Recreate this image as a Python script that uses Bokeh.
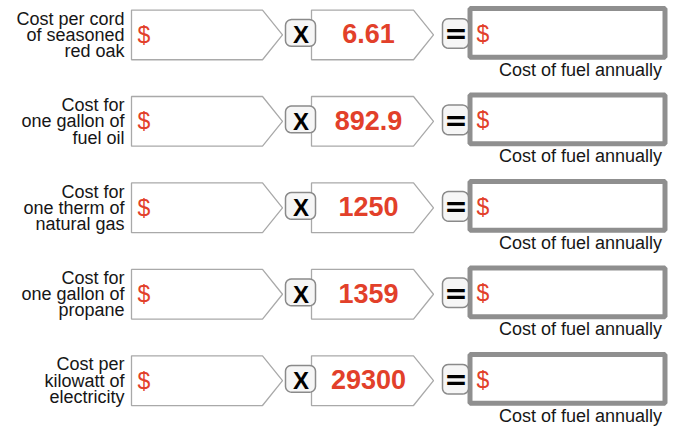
import numpy as np
from bokeh.plotting import figure
from bokeh.models import Range1d
from bokeh.core.properties import value
from bokeh.embed import file_html
from bokeh.resources import INLINE

# ---- content ----
label_lines = [
    ["Cost per cord", "of seasoned", "red oak"],
    ["Cost for", "one gallon of", "fuel oil"],
    ["Cost for", "one therm of", "natural gas"],
    ["Cost for", "one gallon of", "propane"],
    ["Cost per", "kilowatt of", "electricity"],
]
multipliers = ["6.61", "892.9", "1250", "1359", "29300"]
caption = "Cost of fuel annually"
currency = "$"
times_sym = "X"
equals_sym = "="

# ---- layout / style ----
ROW0 = 10.0
STEP = 90.5
RED = "#e2402a"
INK = "#161616"
BOX_LINE = "#a9a9a9"
FONT = value("Liberation Sans")


def rounded_rect(x0, y0, x1, y1, r, n=6):
    xs, ys = [], []
    corners = [
        (x1 - r, y0 + r, -np.pi / 2, 0),
        (x1 - r, y1 - r, 0, np.pi / 2),
        (x0 + r, y1 - r, np.pi / 2, np.pi),
        (x0 + r, y0 + r, np.pi, 3 * np.pi / 2),
    ]
    for cx, cy, a0, a1 in corners:
        for a in np.linspace(a0, a1, n):
            xs.append(cx + r * np.cos(a))
            ys.append(cy + r * np.sin(a))
    return xs, ys


p = figure(width=668, height=427,
           x_range=Range1d(0, 668), y_range=Range1d(447, 0),
           output_backend="svg", toolbar_location=None,
           x_axis_location=None, y_axis_location=None,
           min_border=0, min_border_left=0, min_border_right=0,
           min_border_top=0, min_border_bottom=0)
p.grid.visible = False
p.outline_line_color = None
p.background_fill_color = "white"
p.border_fill_color = "white"

pent1_x, pent1_y, pent2_x, pent2_y = [], [], [], []
xbox_x, xbox_y, ebox_x, ebox_y = [], [], [], []
res_l, res_r, res_t, res_b = [], [], [], []

lab_x, lab_y, lab_t = [], [], []
val_x, val_y, val_t = [], [], []
cur_x, cur_y, cur_t = [], [], []
cap_x, cap_y, cap_t = [], [], []
sym_x, sym_y, sym_t = [], [], []
eq_x, eq_y, eq_t = [], [], []

for i, (lines, mult) in enumerate(zip(label_lines, multipliers)):
    t = ROW0 + STEP * i
    m = t + 26
    b = t + 52
    pent1_x.append([131, 262, 282, 262, 131]); pent1_y.append([t, t, m, b, b])
    pent2_x.append([311, 413, 433, 413, 311]); pent2_y.append([t, t, m, b, b])
    xs, ys = rounded_rect(285, t + 10, 315, t + 38, 6)
    xbox_x.append(xs); xbox_y.append(ys)
    xs, ys = rounded_rect(442, t + 9, 468, t + 40, 6)
    ebox_x.append(xs); ebox_y.append(ys)
    res_l.append(469.5); res_r.append(664.5); res_t.append(t - 1.5); res_b.append(t + 49.5)

    for k, ln in enumerate(lines):
        lab_x.append(124); lab_y.append(t + 9 + 17 * k); lab_t.append(ln)
    val_x.append(368); val_y.append(t + 25); val_t.append(mult)
    cur_x += [137, 476]; cur_y += [t + 26, t + 25]; cur_t += [currency, currency]
    cap_x.append(580); cap_y.append(t + 62.5); cap_t.append(caption)
    sym_x.append(300.5); sym_y.append(t + 26); sym_t.append(times_sym)
    eq_x.append(455.5); eq_y.append(t + 25); eq_t.append(equals_sym)

p.patches(pent1_x, pent1_y, fill_color="white", line_color=BOX_LINE, line_width=1.3)
p.patches(pent2_x, pent2_y, fill_color="white", line_color=BOX_LINE, line_width=1.3)
p.patches(xbox_x, xbox_y, fill_color="#f6f6f6", line_color="#8a8a8a", line_width=1.5)
p.quad(left=res_l, right=res_r, top=res_t, bottom=res_b,
       fill_color="white", line_color="#8f8f8f", line_width=5)
p.patches(ebox_x, ebox_y, fill_color="#f6f6f6", line_color="#8a8a8a", line_width=1.5)

p.text(x=lab_x, y=lab_y, text=lab_t, text_font=FONT, text_font_size="18px",
       text_align="right", text_baseline="middle", text_color=INK)
p.text(x=val_x, y=val_y, text=val_t, text_font=FONT, text_font_size="27px",
       text_font_style="bold", text_align="center", text_baseline="middle", text_color=RED)
p.text(x=cur_x, y=cur_y, text=cur_t, text_font=FONT, text_font_size="23px",
       text_align="left", text_baseline="middle", text_color=RED)
p.text(x=cap_x, y=cap_y, text=cap_t, text_font=FONT, text_font_size="18px",
       text_align="center", text_baseline="middle", text_color=INK)
p.text(x=sym_x, y=sym_y, text=sym_t, text_font=FONT, text_font_size="24px",
       text_font_style="bold", text_align="center", text_baseline="middle", text_color="black")
p.text(x=eq_x, y=eq_y, text=eq_t, text_font=value("DejaVu Sans"), text_font_size="28px",
       text_font_style="bold", text_align="center", text_baseline="middle", text_color="black")

open("out.html", "w").write(file_html(p, INLINE))
